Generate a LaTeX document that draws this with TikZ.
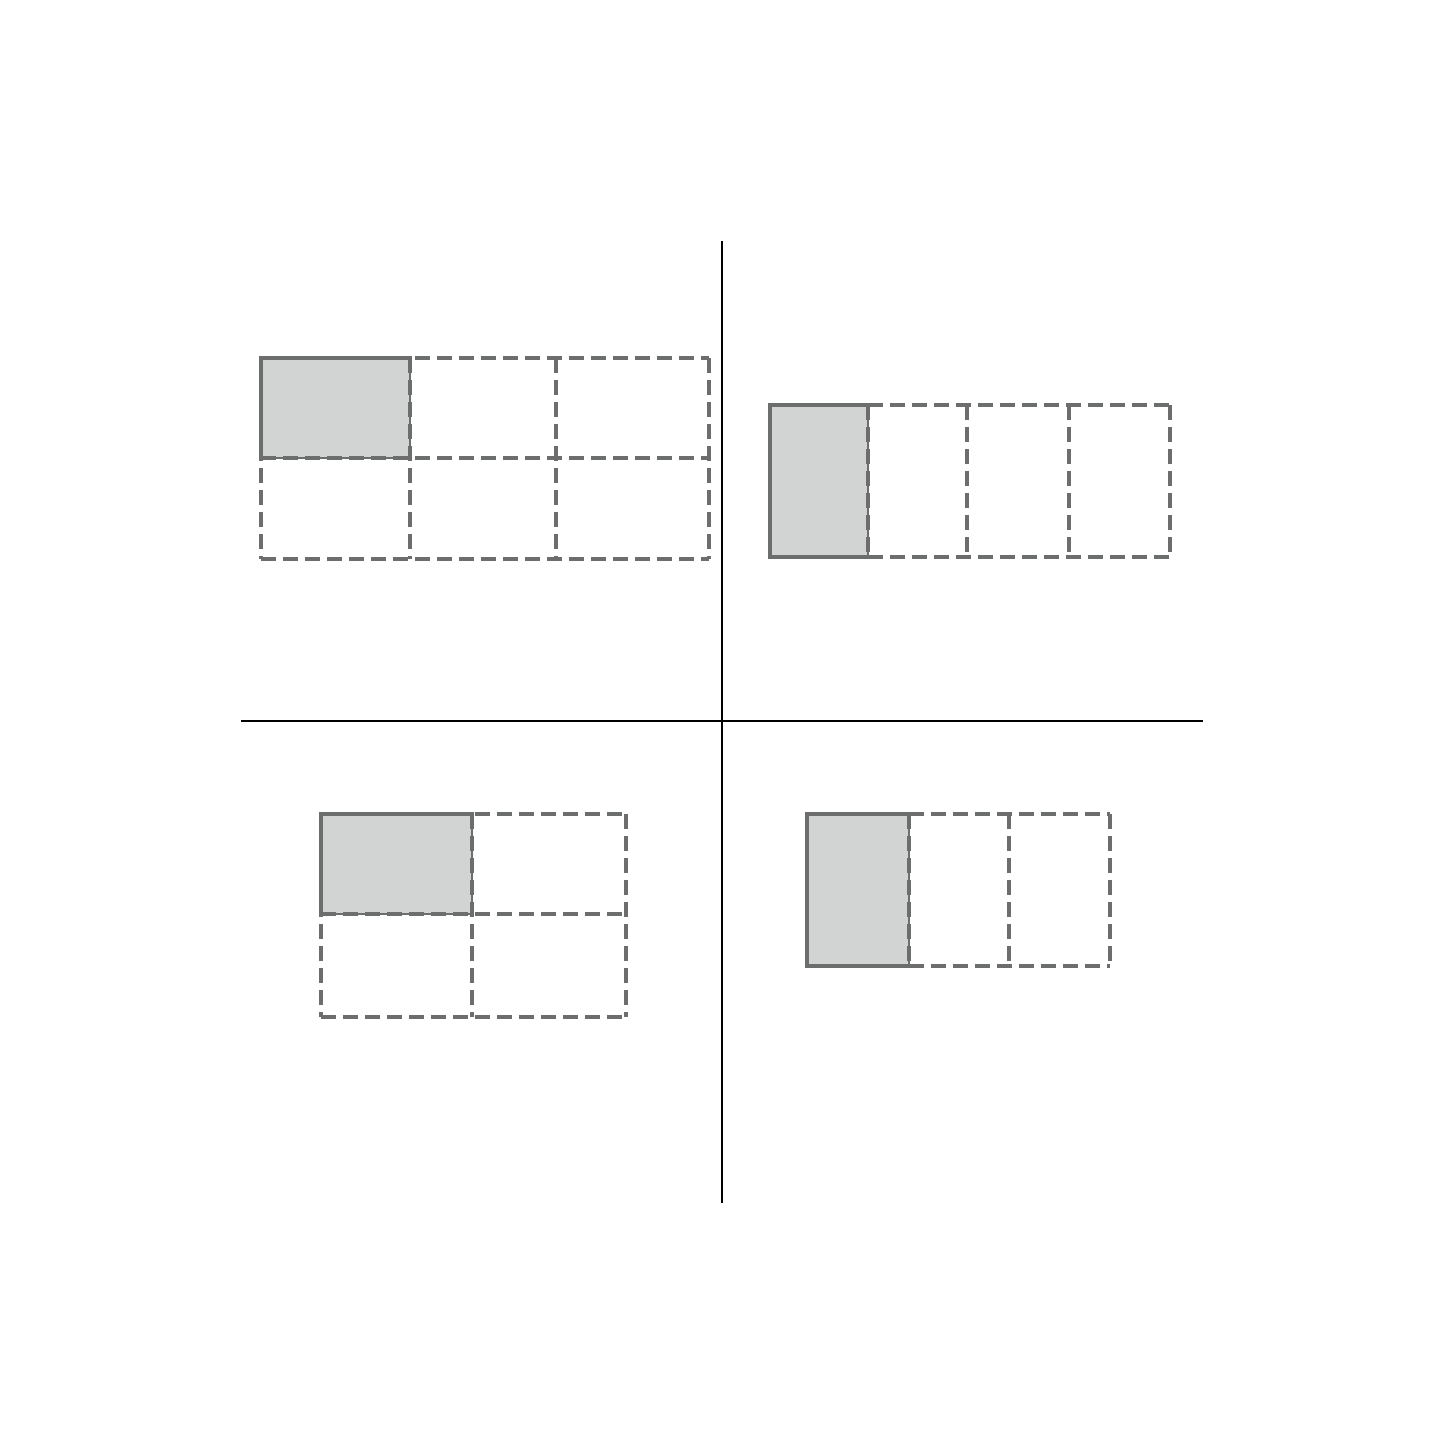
\documentclass[tikz,border=0pt]{standalone}
\definecolor{edgegray}{RGB}{108,109,109}
\definecolor{fillgray}{RGB}{210,211,211}
\begin{document}
\begin{tikzpicture}[x=0.5pt,y=-0.5pt,
  cellline/.style={draw=edgegray,line width=1.9pt,dash pattern=on 7.5pt off 3.5pt},
  solidline/.style={draw=edgegray,line width=2.4pt,line cap=rect},
  thinline/.style={draw=edgegray,line width=0.6pt},
  axisline/.style={draw=black,line width=1pt}]
\useasboundingbox (0,0) rectangle (1445,1445);
% axes
\draw[axisline] (722,241) -- (722,1203);
\draw[axisline] (241,721) -- (1203,721);
% top-left: 3x2 grid
\fill[fillgray] (261,358) rectangle (410,458);
\draw[thinline] (410,358) -- (410,458) -- (261,458);
\foreach \x in {261,410,556,709} \draw[cellline] (\x,358) -- (\x,559);
\foreach \y in {358,458,559} \draw[cellline] (261,\y) -- (709,\y);
\draw[solidline] (410,358) -- (261,358) -- (261,458);
% top-right: 4x1
\fill[fillgray] (770,405) rectangle (868,557);
\draw[thinline] (868,405) -- (868,557);
\foreach \x in {868,967,1069,1170} \draw[cellline] (\x,405) -- (\x,557);
\foreach \y in {405,557} \draw[cellline] (868,\y) -- (1170,\y);
\draw[solidline] (868,405) -- (770,405) -- (770,557) -- (868,557);
% bottom-left: 2x2
\fill[fillgray] (321,814) rectangle (472,914);
\draw[thinline] (472,814) -- (472,914) -- (321,914);
\foreach \x in {321,472,626} \draw[cellline] (\x,814) -- (\x,1017);
\foreach \y in {814,914,1017} \draw[cellline] (321,\y) -- (626,\y);
\draw[solidline] (472,814) -- (321,814) -- (321,914);
% bottom-right: 3x1
\fill[fillgray] (807,814) rectangle (909,966);
\draw[thinline] (909,814) -- (909,966);
\foreach \x in {909,1009,1110} \draw[cellline] (\x,814) -- (\x,966);
\foreach \y in {814,966} \draw[cellline] (909,\y) -- (1110,\y);
\draw[solidline] (909,814) -- (807,814) -- (807,966) -- (909,966);
\end{tikzpicture}
\end{document}
